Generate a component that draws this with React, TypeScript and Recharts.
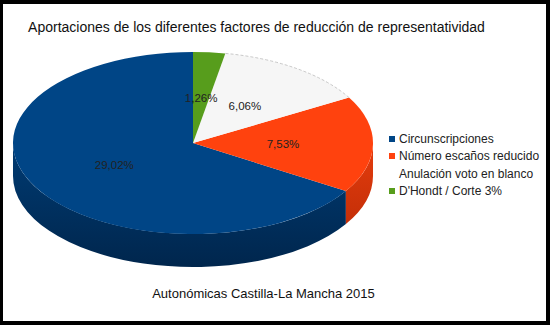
import { Legend, Pie, PieChart } from 'recharts'

// Aportaciones (%) por factor, Autonómicas Castilla-La Mancha 2015
const categories = [
  'Circunscripciones',
  'Número escaños reducido',
  'Anulación voto en blanco',
  "D'Hondt / Corte 3%",
]
const values = [29.02, 7.53, 6.06, 1.26]
const colors = ['#004586', '#ff420e', '#f6f6f6', '#579d1c']
const wallColors = [
  ['#003b73', '#00264d'],
  ['#e53c0d', '#c42f08'],
  ['#dcdcdc', '#c8c8c8'],
  ['#4a8818', '#3a6c12'],
]

const data = categories.map((name, i) => ({ name, value: values[i], fill: colors[i] }))

const TILT = 0.506
const DEPTH = 33
const FONT = "'Liberation Sans', Arial, sans-serif"

const pt = (cx: number, cy: number, r: number, deg: number, dy = 0) => {
  const a = (deg * Math.PI) / 180
  return [cx + r * Math.cos(a), cy - r * TILT * Math.sin(a) + dy]
}

const Slice3D = (props: any) => {
  const { cx, cy, outerRadius: r, startAngle, endAngle, index, fill } = props
  const s = Math.min(startAngle, endAngle)
  const e = Math.max(startAngle, endAngle)
  const ry = r * TILT

  // front half of the rim (180..360) gets a visible side wall
  const walls: [number, number][] = []
  for (const k of [-360, 0, 360]) {
    const lo = Math.max(s, 180 + k)
    const hi = Math.min(e, 360 + k)
    if (lo < hi) walls.push([lo, hi])
  }

  const [sx, sy] = pt(cx, cy, r, s)
  const [ex, ey] = pt(cx, cy, r, e)
  const large = e - s > 180 ? 1 : 0
  const top = `M${cx},${cy} L${sx},${sy} A${r},${ry} 0 ${large} 0 ${ex},${ey} Z`
  const gid = `wall-${index}`

  return (
    <g>
      <defs>
        <linearGradient id={gid} x1="0" y1="0" x2="0" y2="1">
          <stop offset="0%" stopColor={wallColors[index][0]} />
          <stop offset="100%" stopColor={wallColors[index][1]} />
        </linearGradient>
      </defs>
      {walls.map(([lo, hi], i) => {
        const [ax, ay] = pt(cx, cy, r, lo)
        const [bx, by] = pt(cx, cy, r, hi)
        const lf = hi - lo > 180 ? 1 : 0
        const d = `M${ax},${ay} A${r},${ry} 0 ${lf} 0 ${bx},${by} L${bx},${by + DEPTH} A${r},${ry} 0 ${lf} 1 ${ax},${ay + DEPTH} Z`
        return <path key={i} d={d} fill={`url(#${gid})`} />
      })}
      <path d={top} fill={fill} />
      {index === 2 && (
        <path
          d={`M${sx},${sy} A${r},${ry} 0 ${large} 0 ${ex},${ey}`}
          fill="none"
          stroke="#bbbbbb"
          strokeWidth={0.8}
          strokeDasharray="3 2"
        />
      )}
    </g>
  )
}

const renderLabel = ({ cx, cy, midAngle, outerRadius, value }: any) => {
  const [x, y] = pt(cx, cy, outerRadius * 0.5, midAngle)
  return (
    <text
      x={x}
      y={y}
      textAnchor="middle"
      dominantBaseline="central"
      fontSize={11.5}
      fontFamily={FONT}
      fill="#222"
    >
      {value.toFixed(2).replace('.', ',')}%
    </text>
  )
}

const LegendContent = ({ payload }: any) => {
  const items = [...(payload || [])].sort(
    (a: any, b: any) => categories.indexOf(a.value) - categories.indexOf(b.value),
  )
  return (
    <div style={{ fontFamily: FONT, fontSize: 12, color: '#222' }}>
      {items.map((item: any, i: number) => (
        <div key={i} style={{ display: 'flex', alignItems: 'center', height: 17.5 }}>
          <span
            style={{
              display: 'inline-block',
              width: 6,
              height: 6,
              marginRight: 4,
              background: item.color === '#f6f6f6' ? 'transparent' : item.color,
            }}
          />
          <span>{item.value}</span>
        </div>
      ))}
    </div>
  )
}

const App = () => {
  return (
    <div
      style={{
        position: 'absolute',
        left: 0,
        top: 0,
        width: 550,
        height: 325,
        background: '#fff',
        fontFamily: FONT,
      }}
    >
      <PieChart width={550} height={325} margin={{ top: 0, right: 0, bottom: 0, left: 0 }}>
        <Pie
          data={data}
          dataKey="value"
          nameKey="name"
          cx={193}
          cy={143}
          outerRadius={180}
          startAngle={90}
          endAngle={450}
          stroke="none"
          shape={Slice3D}
          label={renderLabel}
          labelLine={false}
          isAnimationActive={false}
        />
        <Legend
          layout="vertical"
          align="right"
          verticalAlign="middle"
          content={<LegendContent />}
          wrapperStyle={{ left: 389, top: 130, right: 'auto', width: 160 }}
        />
      </PieChart>
      <div
        style={{
          position: 'absolute',
          left: 0,
          width: 513,
          top: 19,
          textAlign: 'center',
          fontSize: 14,
          color: '#111',
        }}
      >
        Aportaciones de los diferentes factores de reducción de representatividad
      </div>
      <div
        style={{
          position: 'absolute',
          left: 0,
          width: 527,
          top: 286,
          textAlign: 'center',
          fontSize: 13,
          color: '#111',
        }}
      >
        Autonómicas Castilla-La Mancha 2015
      </div>
      <div
        style={{
          position: 'absolute',
          left: 0,
          top: 0,
          width: 550,
          height: 325,
          boxSizing: 'border-box',
          borderStyle: 'solid',
          borderColor: '#000',
          borderWidth: '4px 4px 4px 3px',
          pointerEvents: 'none',
        }}
      />
    </div>
  )
}

export default App
